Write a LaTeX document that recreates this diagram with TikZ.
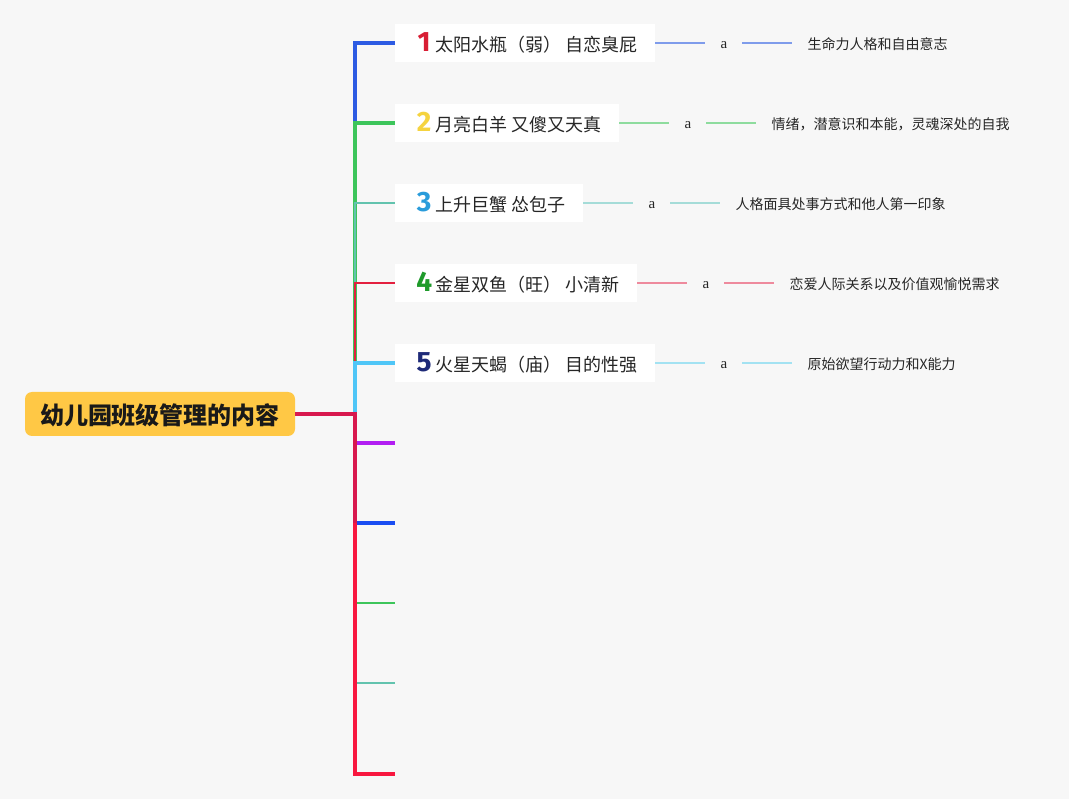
\documentclass[tikz,border=0pt]{standalone}
\usepackage{fontspec}
\usetikzlibrary{positioning}
\newfontfamily\cjk{Noto Sans CJK SC}
\newfontfamily\numfont{Fira Sans}
\newfontfamily\serif{Liberation Serif}
\definecolor{bg}{HTML}{F7F7F7}
\definecolor{rootfill}{HTML}{FFC845}
\definecolor{b1}{HTML}{2D5BE3}
\definecolor{b2}{HTML}{3DC55B}
\definecolor{b3}{HTML}{62C3AE}
\definecolor{b4}{HTML}{E3203F}
\definecolor{b5}{HTML}{4FC6F7}
\definecolor{b6}{HTML}{B21EF2}
\definecolor{b7}{HTML}{1A4DF2}
\definecolor{b8}{HTML}{3DC55B}
\definecolor{b9}{HTML}{62C3AE}
\definecolor{b10}{HTML}{F8173F}
\definecolor{crimson}{HTML}{D8184E}
\definecolor{s1}{HTML}{7F9CEB}
\definecolor{s2}{HTML}{8EDC9E}
\definecolor{s3}{HTML}{A5DCD8}
\definecolor{s4}{HTML}{EE8A9D}
\definecolor{s5}{HTML}{A3E2F2}
\definecolor{i1}{HTML}{D81E34}
\definecolor{i2}{HTML}{F5D33F}
\definecolor{i3}{HTML}{2A9CDB}
\definecolor{i4}{HTML}{1E9A2A}
\definecolor{i5}{HTML}{1E2A78}
\newcommand\numicon[2]{\makebox[22pt][c]{\numfont\bfseries\fontsize{28}{28}\selectfont\color{#1}#2}}

\begin{document}
\begin{tikzpicture}[x=1pt,y=-1pt]
    \tikzstyle{root}=[rounded corners=7pt,fill=rootfill,inner xsep=15pt,inner ysep=11pt,text height=22pt,text depth=0pt,font=\cjk\bfseries\fontsize{24}{24}\selectfont,text=black!90]
    \tikzstyle{topic}=[anchor=west,fill=white,inner xsep=18pt,inner ysep=10pt,text height=18pt,text depth=0pt,font=\cjk\fontsize{18}{18}\selectfont,text=black!85]
    \tikzstyle{dummy}=[inner xsep=15pt,inner ysep=4pt,text height=12pt,text depth=0pt,font=\serif\fontsize{15}{15}\selectfont,text=black!85]
    \tikzstyle{detail}=[inner xsep=15pt,inner ysep=4pt,text height=13pt,text depth=0pt,font=\cjk\fontsize{14}{14}\selectfont,text=black!85]
    \tikzstyle{bigline}=[line width=4pt]
    \tikzstyle{smallline}=[line width=1.6pt]

    \fill[bg] (0,0) rectangle (1069,799);
    \useasboundingbox (0,0) rectangle (1069,799);

    \node[root] (root) at (160,414) {幼儿园班级管理的内容};
    \coordinate (fork) at (355,414);
    \coordinate (mid) at (355,523);

    \foreach \num/\y/\txt in {1/43/{太阳水瓶（弱） 自恋臭屁}, 2/123/{月亮白羊 又傻又天真}, 3/203/{上升巨蟹 怂包子}, 4/283/{金星双鱼（旺） 小清新}, 5/363/{火星天蝎（庙） 目的性强}}
        \node[topic] (T-\num) at (395,\y) {\numicon{i\num}{\num}\txt};

    \foreach \num/\y in {6/443, 7/523, 8/603, 9/683, 10/774}
        \coordinate (E-\num) at (395,\y);

    \foreach \num/\txt in {1/{生命力人格和自由意志}, 2/{情绪，潜意识和本能，灵魂深处的自我}, 3/{人格面具处事方式和他人第一印象}, 4/{恋爱人际关系以及价值观愉悦需求}, 5/{原始欲望行动力和X能力}}
    {
        \node[dummy,right=50pt of T-\num] (A-\num) {a};
        \node[detail,right=50pt of A-\num] (D-\num) {\txt};
        \draw[s\num,line width=1.8pt] (T-\num) -- (A-\num);
        \draw[s\num,line width=1.8pt] (A-\num) -- (D-\num);
    }

    \foreach \num/\w in {1/bigline, 2/bigline, 3/smallline, 4/smallline, 5/bigline}
        \draw[b\num,\w] (fork) |- (T-\num);
    \foreach \num/\w in {6/bigline, 7/bigline, 8/smallline, 9/smallline}
        \draw[b\num,\w] (fork) |- (E-\num);
    \draw[b10,bigline] (fork) |- (E-10);
    \draw[crimson,bigline] (root.east) -| (mid);
\end{tikzpicture}
\end{document}
